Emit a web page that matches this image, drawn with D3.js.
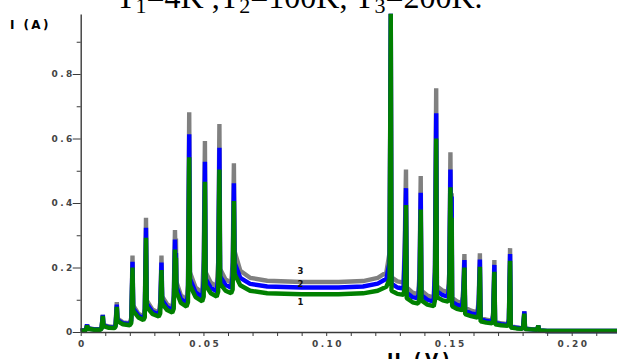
<!DOCTYPE html>
<html><head><meta charset="utf-8">
<script src="https://cdn.jsdelivr.net/npm/d3@7"></script>
<style>html,body{margin:0;padding:0;background:#fff;overflow:hidden}</style>
</head><body><svg id="c" width="617" height="359"></svg>
<script>
// ---- data ----
const xTickValues = [0, 0.05, 0.10, 0.15, 0.20];
const xTickLabels = ["0", "0.05", "0.10", "0.15", "0.20"];
const yTickValues = [0, 0.2, 0.4, 0.6, 0.8];
const yTickLabels = ["0", "0.2", "0.4", "0.6", "0.8"];
const seriesNames = ["1", "2", "3"];          // 1: T1=4K, 2: T2=100K, 3: T3=200K
const seriesColors = ["#008000", "#0000ff", "#808080"];

// I(U) for T1 = 4 K  (green)
const curveT1 = [
[0.0000,0.004],[0.0018,0.005],[0.0022,0.008],
[0.0026,0.020],[0.0029,0.010],[0.0055,0.007],[0.0080,0.007],[0.0085,0.010],
[0.0090,0.050],[0.0093,0.018],[0.0115,0.013],[0.0137,0.012],[0.0142,0.016],
[0.0147,0.078],[0.0150,0.034],[0.0172,0.024],[0.0200,0.021],[0.0206,0.028],
[0.0211,0.200],[0.0214,0.066],[0.0235,0.045],[0.0255,0.037],[0.0261,0.045],
[0.0266,0.292],[0.0269,0.078],[0.0292,0.056],[0.0318,0.048],[0.0324,0.058],
[0.0329,0.192],[0.0332,0.088],[0.0352,0.068],[0.0373,0.060],[0.0379,0.072],
[0.0384,0.256],[0.0386,0.200],[0.0388,0.230],[0.0390,0.125],[0.0408,0.090],[0.0431,0.079],[0.0437,0.092],
[0.0442,0.542],[0.0445,0.145],[0.0468,0.108],[0.0495,0.095],[0.0501,0.110],
[0.0506,0.466],[0.0509,0.145],[0.0530,0.120],[0.0554,0.110],[0.0560,0.125],
[0.0565,0.504],[0.0568,0.150],[0.0590,0.128],[0.0613,0.120],[0.0619,0.132],
[0.0624,0.406],[0.0627,0.180],[0.0650,0.145],[0.0690,0.128],[0.0760,0.120],[0.0900,0.117],[0.1050,0.117],[0.1150,0.120],[0.1210,0.128],[0.1245,0.140],[0.1258,0.165],
[0.1263,0.987],[0.1266,0.128],[0.1290,0.118],[0.1315,0.115],[0.1320,0.140],
[0.1325,0.394],[0.1328,0.105],[0.1352,0.092],[0.1375,0.088],[0.1380,0.105],
[0.1385,0.380],[0.1388,0.098],[0.1412,0.085],[0.1438,0.080],[0.1443,0.098],
[0.1448,0.600],[0.1451,0.108],[0.1475,0.098],[0.1496,0.094],[0.1501,0.105],
[0.1506,0.449],[0.1508,0.300],[0.1511,0.354],[0.1513,0.080],[0.1532,0.072],[0.1553,0.068],[0.1558,0.078],
[0.1563,0.200],[0.1566,0.055],[0.1590,0.049],[0.1616,0.045],[0.1621,0.054],
[0.1626,0.202],[0.1629,0.033],[0.1652,0.029],[0.1675,0.027],[0.1680,0.033],
[0.1685,0.187],[0.1688,0.024],[0.1712,0.021],[0.1739,0.019],[0.1744,0.025],
[0.1749,0.221],[0.1752,0.014],[0.1775,0.011],[0.1797,0.010],[0.1802,0.013],
[0.1807,0.057],[0.1810,0.009],[0.1835,0.008],[0.1856,0.007],[0.1860,0.008],
[0.1864,0.020],[0.1867,0.005],[0.1900,0.003],[0.2000,0.003],[0.2200,0.003]
];

// I(U) for T2 = 100 K  (blue)
const curveT2 = [
[0.0000,0.004],[0.0018,0.006],[0.0022,0.009],
[0.0026,0.023],[0.0029,0.011],[0.0055,0.008],[0.0080,0.008],[0.0085,0.012],
[0.0090,0.053],[0.0093,0.020],[0.0115,0.015],[0.0137,0.014],[0.0142,0.020],
[0.0147,0.085],[0.0150,0.038],[0.0172,0.027],[0.0200,0.024],[0.0206,0.036],
[0.0211,0.218],[0.0214,0.074],[0.0235,0.051],[0.0255,0.042],[0.0261,0.058],
[0.0266,0.323],[0.0269,0.088],[0.0292,0.063],[0.0318,0.054],[0.0324,0.075],
[0.0329,0.215],[0.0332,0.099],[0.0352,0.077],[0.0373,0.068],[0.0379,0.092],
[0.0384,0.287],[0.0386,0.220],[0.0388,0.245],[0.0390,0.140],[0.0408,0.102],[0.0431,0.090],[0.0437,0.118],
[0.0442,0.613],[0.0445,0.165],[0.0468,0.123],[0.0495,0.108],[0.0501,0.160],
[0.0506,0.528],[0.0509,0.165],[0.0530,0.137],[0.0554,0.126],[0.0560,0.170],
[0.0565,0.571],[0.0568,0.172],[0.0590,0.146],[0.0613,0.137],[0.0619,0.175],
[0.0624,0.461],[0.0627,0.215],[0.0650,0.168],[0.0690,0.149],[0.0760,0.141],[0.0900,0.138],[0.1050,0.138],[0.1150,0.141],[0.1210,0.150],[0.1245,0.165],[0.1258,0.215],
[0.1263,0.987],[0.1266,0.150],[0.1290,0.138],[0.1315,0.135],[0.1320,0.240],
[0.1325,0.446],[0.1328,0.122],[0.1352,0.108],[0.1375,0.104],[0.1380,0.155],
[0.1385,0.432],[0.1388,0.114],[0.1412,0.100],[0.1438,0.094],[0.1443,0.185],
[0.1448,0.678],[0.1451,0.126],[0.1475,0.114],[0.1496,0.110],[0.1501,0.150],
[0.1506,0.504],[0.1508,0.300],[0.1511,0.420],[0.1513,0.094],[0.1532,0.084],[0.1553,0.080],[0.1558,0.110],
[0.1563,0.223],[0.1566,0.066],[0.1590,0.058],[0.1616,0.054],[0.1621,0.085],
[0.1626,0.225],[0.1629,0.040],[0.1652,0.034],[0.1675,0.031],[0.1680,0.050],
[0.1685,0.208],[0.1688,0.028],[0.1712,0.024],[0.1739,0.022],[0.1744,0.035],
[0.1749,0.242],[0.1752,0.016],[0.1775,0.013],[0.1797,0.011],[0.1802,0.015],
[0.1807,0.064],[0.1810,0.010],[0.1835,0.008],[0.1856,0.007],[0.1860,0.008],
[0.1864,0.020],[0.1867,0.005],[0.1900,0.003],[0.2000,0.003],[0.2200,0.003]
];

// I(U) for T3 = 200 K  (gray)
const curveT3 = [
[0.0000,0.004],[0.0018,0.006],[0.0022,0.010],
[0.0026,0.023],[0.0029,0.012],[0.0055,0.009],[0.0080,0.009],[0.0085,0.014],
[0.0090,0.053],[0.0093,0.022],[0.0115,0.017],[0.0137,0.016],[0.0142,0.024],
[0.0147,0.093],[0.0150,0.042],[0.0172,0.030],[0.0200,0.027],[0.0206,0.045],
[0.0211,0.237],[0.0214,0.082],[0.0235,0.057],[0.0255,0.047],[0.0261,0.072],
[0.0266,0.354],[0.0269,0.098],[0.0292,0.070],[0.0318,0.060],[0.0324,0.092],
[0.0329,0.237],[0.0332,0.110],[0.0352,0.086],[0.0373,0.076],[0.0379,0.112],
[0.0384,0.316],[0.0386,0.250],[0.0388,0.290],[0.0390,0.155],[0.0408,0.114],[0.0431,0.100],[0.0437,0.145],
[0.0442,0.681],[0.0445,0.185],[0.0468,0.138],[0.0495,0.121],[0.0501,0.225],
[0.0506,0.592],[0.0509,0.185],[0.0530,0.153],[0.0554,0.141],[0.0560,0.215],
[0.0565,0.645],[0.0568,0.195],[0.0590,0.163],[0.0613,0.153],[0.0619,0.215],
[0.0624,0.523],[0.0627,0.250],[0.0650,0.190],[0.0690,0.168],[0.0760,0.159],[0.0900,0.155],[0.1050,0.155],[0.1150,0.158],[0.1210,0.168],[0.1245,0.185],[0.1258,0.246],
[0.1263,0.987],[0.1266,0.170],[0.1290,0.157],[0.1315,0.153],[0.1320,0.280],
[0.1325,0.504],[0.1328,0.138],[0.1352,0.122],[0.1375,0.117],[0.1380,0.180],
[0.1385,0.484],[0.1388,0.128],[0.1412,0.113],[0.1438,0.107],[0.1443,0.210],
[0.1448,0.756],[0.1451,0.142],[0.1475,0.128],[0.1496,0.124],[0.1501,0.180],
[0.1506,0.557],[0.1508,0.330],[0.1511,0.430],[0.1513,0.106],[0.1532,0.095],[0.1553,0.090],[0.1558,0.130],
[0.1563,0.242],[0.1566,0.075],[0.1590,0.066],[0.1616,0.061],[0.1621,0.100],
[0.1626,0.244],[0.1629,0.045],[0.1652,0.038],[0.1675,0.035],[0.1680,0.060],
[0.1685,0.223],[0.1688,0.031],[0.1712,0.027],[0.1739,0.024],[0.1744,0.040],
[0.1749,0.260],[0.1752,0.018],[0.1775,0.014],[0.1797,0.012],[0.1802,0.016],
[0.1807,0.064],[0.1810,0.011],[0.1835,0.009],[0.1856,0.007],[0.1860,0.008],
[0.1864,0.020],[0.1867,0.005],[0.1900,0.003],[0.2000,0.003],[0.2200,0.003]
];

// ---- drawing ----
const svg = d3.select("#c");
const x = d3.scaleLinear().domain([0, 0.22]).range([80.7, 620.8]);
const y = d3.scaleLinear().domain([0, 1]).range([332, 9.5]);
const axisColor = "#3a3a3a";

// title (partially cut at top, as in the reference)
const title = svg.append("text")
  .attr("x", 116).attr("y", 8)
  .attr("font-family", "Liberation Serif, Times New Roman, serif")
  .attr("font-size", 32).attr("fill", "#000");
const parts = [["T",""],["1","sub"],["=4K ,T",""],["2","sub"],["=100K, T",""],["3","sub"],["=200K.",""]];
parts.forEach(([t, k], i) => {
  const ts = title.append("tspan").text(t);
  if (k === "sub") ts.attr("font-size", 22).attr("dy", 5);
  else if (i > 0) ts.attr("dy", -5);
});

// curves: gray, blue, green (green on top)
const line = d3.line().x(d => x(d[0])).y(d => y(d[1])).curve(d3.curveLinear);
const curves = [curveT3, curveT2, curveT1];
const cols = [seriesColors[2], seriesColors[1], seriesColors[0]];
curves.forEach((c, i) => {
  svg.append("path").datum(c)
    .attr("d", line)
    .attr("fill", "none")
    .attr("stroke", cols[i])
    .attr("stroke-width", 4.4)
    .attr("stroke-linejoin", "miter")
    .attr("stroke-miterlimit", 1);
});

// y axis
const yAxisScale = y.copy().domain([0, 0.986]).range([332, y(0.986)]);
const gy = svg.append("g").attr("transform", "translate(80.7,0)");
gy.call(d3.axisLeft(yAxisScale).tickValues(d3.range(0.1, 0.95, 0.2)).tickSize(4).tickSizeOuter(0).tickFormat(""));
gy.call(g => g.select(".domain").remove());
const gy2 = svg.append("g").attr("transform", "translate(80.7,0)");
gy2.call(d3.axisLeft(yAxisScale).tickValues(yTickValues).tickSize(8).tickSizeOuter(0)
  .tickFormat((d, i) => yTickLabels[i]));
svg.selectAll("g .domain").attr("stroke", axisColor).attr("stroke-width", 1.4);
gy.selectAll("line").attr("stroke", axisColor);
gy2.selectAll("line").attr("stroke", axisColor);
gy2.selectAll("text")
  .attr("font-family", "DejaVu Sans, sans-serif").attr("font-weight", "bold")
  .attr("font-size", 9).attr("fill", "#444").attr("letter-spacing", 2.4)
  .attr("x", -10).attr("dx", 0)
  .attr("transform", "translate(4,0)");

// x axis
const gx = svg.append("g").attr("transform", "translate(0,332)");
gx.call(d3.axisBottom(x).tickValues(d3.range(0, 0.225, 0.01)).tickSize(4).tickSizeOuter(0)
  .tickFormat(d => {
    const k = xTickValues.findIndex(v => Math.abs(v - d) < 1e-9);
    return k >= 0 ? xTickLabels[k] : "";
  }));
gx.select(".domain").attr("stroke", axisColor).attr("stroke-width", 1.4);
gx.selectAll("line").attr("stroke", axisColor);
gx.selectAll("text")
  .attr("font-family", "DejaVu Sans, sans-serif").attr("font-weight", "bold")
  .attr("font-size", 9).attr("fill", "#444").attr("letter-spacing", 2.4)
  .attr("y", 9).attr("dx", 1.2);

// axis labels
svg.append("text").attr("x", 10).attr("y", 28.5)
  .attr("font-family", "DejaVu Sans, sans-serif").attr("font-weight", "bold")
  .attr("font-size", 12).attr("letter-spacing", 2.4).attr("fill", "#000")
  .text("I (A)");
svg.append("text").attr("x", 387).attr("y", 366)
  .attr("font-family", "DejaVu Sans, sans-serif").attr("font-weight", "bold")
  .attr("font-size", 17).attr("letter-spacing", 3.5).attr("fill", "#000")
  .text("U (V)");

// curve labels
const labelU = 0.0895;
const labelI = [0.093, 0.149, 0.189];
seriesNames.forEach((n, i) => {
  svg.append("text").attr("x", x(labelU)).attr("y", y(labelI[i]) + 3)
    .attr("text-anchor", "middle")
    .attr("font-family", "DejaVu Sans, sans-serif").attr("font-weight", "bold")
    .attr("font-size", 8.5).attr("fill", "#111")
    .text(n);
});
</script></body></html>
